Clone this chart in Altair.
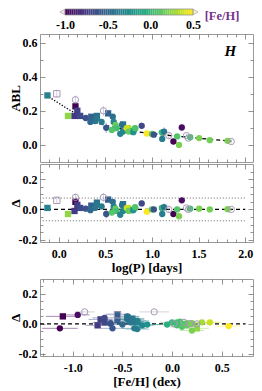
import altair as alt
import pandas as pd
import numpy as np

FONT = "Liberation Serif"
OPEN = "#a698b6"

# ---- star data ----
log_p = [-0.12, -0.02, 0.10, 0.18, 0.18, 0.20, 0.17, 0.23, 0.29, 0.35, 0.41, 0.41, 0.39, 0.34,
         0.46, 0.48, 0.53, 0.58, 0.59, 0.51, 0.61, 0.62, 0.57, 0.69, 0.69, 0.75, 0.82, 0.78,
         0.66, 0.68, 0.73, 0.75, 0.80, 0.82, 0.89, 0.945, 1.00, 1.02, 1.106, 1.13, 1.11, 1.18,
         1.23, 1.32, 1.29, 1.27, 1.37, 1.39, 1.41, 1.506, 1.62, 1.81, 1.85]
abl = [0.29, 0.30, 0.17, 0.226, 0.265, 0.20, 0.17, 0.17, 0.158, 0.165, 0.17, 0.155, 0.14, 0.135,
       0.135, 0.20, 0.185, 0.165, 0.135, 0.10, 0.117, 0.098, 0.088, 0.12, 0.078, 0.10, 0.095, 0.08,
       0.065, 0.118, 0.098, 0.078, 0.075, 0.098, 0.112, 0.067, 0.064, 0.06, 0.074, 0.078, 0.035, 0.055,
       0.02, 0.102, 0.0, 0.05, 0.055, 0.04, 0.045, 0.04, 0.028, 0.024, 0.02]
abl_err = [0.012, 0.025, 0.012, 0.012, 0.025, 0.012, 0.012, 0.012, 0.012, 0.012, 0.012, 0.012, 0.012, 0.012,
           0.012, 0.03, 0.012, 0.012, 0.012, 0.03, 0.012, 0.012, 0.012, 0.012, 0.02, 0.012, 0.012, 0.012,
           0.02, 0.02, 0.012, 0.012, 0.012, 0.012, 0.02, 0.012, 0.012, 0.012, 0.012, 0.025, 0.012, 0.02,
           0.012, 0.012, 0.012, 0.012, 0.012, 0.012, 0.012, 0.012, 0.012, 0.012, 0.012]
delta = [0.01, 0.06, -0.03, 0.05, 0.08, 0.03, -0.01, 0.01, 0.005, 0.025, 0.045, 0.03, 0.01, -0.005,
         0.02, 0.08, 0.065, 0.05, 0.02, -0.03, 0.005, -0.01, -0.02, 0.035, -0.01, 0.01, 0.01, -0.005,
         -0.035, 0.03, 0.01, -0.01, -0.005, 0.015, 0.04, -0.015, 0.0, 0.0, 0.01, 0.015, -0.03, 0.0,
         -0.03, 0.06, -0.045, 0.0, 0.01, 0.0, 0.005, 0.005, 0.0, 0.002, 0.0]
feh = [-0.35, -0.55, 0.25, -1.10, -0.88, -0.72, -0.75, -0.68, -0.62, -0.55, -0.45, -0.40, -0.42, -0.50,
       -0.38, -0.18, -0.55, -0.45, -0.35, -0.60, 0.15, 0.05, 0.10, -0.40, -0.30, 0.30, 0.05, -0.05,
       -0.35, -0.45, 0.38, 0.15, -0.25, 0.08, -0.68, 0.57, 0.12, -0.62, 0.0, -0.40, -0.38, 0.02,
       -1.13, -0.95, 0.20, 0.10, 0.12, 0.18, 0.05, 0.20, 0.18, 0.20, 0.25]
feh_err = [0.12, 0.12, 0.12, 0.17, 0.10, 0.12, 0.12, 0.12, 0.12, 0.12, 0.12, 0.12, 0.12, 0.12,
           0.12, 0.15, 0.12, 0.12, 0.12, 0.12, 0.12, 0.12, 0.12, 0.12, 0.12, 0.12, 0.12, 0.12,
           0.12, 0.12, 0.12, 0.12, 0.12, 0.12, 0.12, 0.12, 0.12, 0.12, 0.12, 0.12, 0.12, 0.12,
           0.18, 0.12, 0.12, 0.12, 0.12, 0.12, 0.12, 0.12, 0.12, 0.12, 0.12]
marker = (["square"] * 4 + ["circle"] + ["square"] * 3 + ["circle", "square", "square"]
          + ["circle"] * 5 + ["square"] + ["circle"] * 6 + ["square"] + ["circle"] * 29)
is_open = [False] * 53
for i in [1, 4, 15, 41, 46, 47, 52]:
    is_open[i] = True

stars = pd.DataFrame({"logp": log_p, "abl": abl, "abl_err": abl_err, "delta": delta,
                      "feh": feh, "feh_err": feh_err, "shape": marker, "open": is_open})

# fit curves
fit_dot_logp = [-0.13, 0.0, 0.1, 0.2, 0.3, 0.4, 0.5]
fit_dot_abl = [0.29, 0.245, 0.21, 0.18, 0.155, 0.13, 0.115]
fit_dash_logp = [0.5, 0.6, 0.7, 0.8, 1.0, 1.2, 1.4, 1.6, 1.85]
fit_dash_abl = [0.115, 0.102, 0.09, 0.08, 0.066, 0.055, 0.045, 0.034, 0.022]

band_levels = [0.075, -0.075]
band_logp_range = [-0.17, 2.0]
zero_logp_range = [-0.2, 2.0]
zero_feh_range = [-1.33, 0.74]
cbar_ticks = [-1.0, -0.5, 0.0, 0.5]

W = 213
# ---- scales ----
cscale = alt.Scale(scheme="viridis", domain=[-1.0, 0.5], clamp=True)
xs_logp = alt.Scale(domain=[-0.2, 2.083], nice=False, zero=False)
xs_feh = alt.Scale(domain=[-1.33, 0.815], nice=False, zero=False)
ys_top = alt.Scale(domain=[-0.1, 0.65], nice=False, zero=False)
ys_del = alt.Scale(domain=[-0.215, 0.3], nice=False, zero=False)
shape_enc = alt.Shape("shape:N", scale=alt.Scale(domain=["circle", "square"], range=["circle", "square"]), legend=None)
color_enc = alt.Color("feh:Q", scale=cscale, legend=None)
err_color = alt.condition("datum.open", alt.value(OPEN), color_enc)


def is_major(step):
    return f"abs(datum.value/{step} - round(datum.value/{step})) < 0.001"


def tsize(step):
    return {"condition": {"test": is_major(step), "value": -5}, "value": -3}


def label_expr(step):
    return (f"{is_major(step)} ? (datum.value < -0.001 ? '-' : '') + format(abs(datum.value), '.1f') : ''")


LBL = dict(labelFont=FONT, labelFontWeight="bold", labelFontSize=12, labelColor="black",
           titleFont=FONT, titleFontWeight="bold", titleFontSize=13, titleColor="black",
           tickColor="#777", tickWidth=0.8)


def axis(orient, values, step, labels=False, title=None, **kw):
    args = dict(orient=orient, values=values, tickSize=tsize(step), labels=labels,
                title=title, labelOverlap=False, labelFlush=False, grid=False, domain=False)
    args.update(LBL)
    if labels:
        args["labelExpr"] = label_expr(step)
    args.update(kw)
    return alt.Axis(**args)


logp_ticks = [round(v, 2) for v in np.arange(-0.1, 2.05, 0.1)]
feh_ticks = [round(v, 2) for v in np.arange(-1.3, 0.8, 0.1)]
top_yticks = [round(v, 2) for v in np.arange(0.0, 0.65, 0.1)]
del_yticks = [round(v, 2) for v in np.arange(-0.2, 0.27, 0.05)]

YAX = dict(labelPadding=8, minExtent=18, maxExtent=18, titlePadding=0)
XAX = dict(labelPadding=11, titlePadding=0)

base = alt.Chart(stars)

# ---------------- top panel ----------------
err_top = base.transform_calculate(lo="datum.abl - datum.abl_err", hi="datum.abl + datum.abl_err").mark_rule(
    strokeWidth=0.8, opacity=0.6).encode(
    x=alt.X("logp:Q", scale=xs_logp, axis=None),
    y=alt.Y("lo:Q", scale=ys_top, axis=None), y2="hi:Q", color=err_color)
pts_top = base.transform_filter("!datum.open").mark_point(filled=True, size=40, opacity=1).encode(
    x=alt.X("logp:Q", scale=xs_logp, axis=axis("bottom", logp_ticks, 0.5)),
    y=alt.Y("abl:Q", scale=ys_top, axis=axis("left", top_yticks, 0.2, labels=True, title="ABL", **YAX)),
    color=color_enc, shape=shape_enc)
open_top = base.transform_filter("datum.open").mark_point(filled=False, size=40, strokeWidth=1, color=OPEN, opacity=1).encode(
    x=alt.X("logp:Q", scale=xs_logp, axis=None), y=alt.Y("abl:Q", scale=ys_top, axis=None), shape=shape_enc)
fit_dot = alt.Chart(pd.DataFrame({"x": fit_dot_logp, "y": fit_dot_abl})).mark_line(
    color="black", strokeWidth=1.3, strokeDash=[1.3, 1.7]).encode(
    x=alt.X("x:Q", scale=xs_logp, axis=axis("top", logp_ticks, 0.5)),
    y=alt.Y("y:Q", scale=ys_top, axis=axis("right", top_yticks, 0.2)))
fit_dash = alt.Chart(pd.DataFrame({"x": fit_dash_logp, "y": fit_dash_abl})).mark_line(
    color="black", strokeWidth=1.3, strokeDash=[4, 3]).encode(
    x=alt.X("x:Q", scale=xs_logp, axis=None), y=alt.Y("y:Q", scale=ys_top, axis=None))
h_text = alt.Chart(pd.DataFrame({"t": ["H"]})).mark_text(
    font=FONT, fontStyle="italic", fontWeight="bold", fontSize=15, color="black").encode(
    x=alt.XDatum(1.84, scale=xs_logp, axis=None), y=alt.YDatum(0.55, scale=ys_top, axis=None), text="t:N")
top = alt.layer(err_top, fit_dot, fit_dash, pts_top, open_top, h_text).resolve_axis(
    x="independent", y="independent").properties(width=W, height=128)

# ---------------- middle panel ----------------
band_df = pd.DataFrame({"x": [band_logp_range[0]] * 2, "x2": [band_logp_range[1]] * 2, "y": band_levels})
bands = alt.Chart(band_df).mark_rule(color="#555", strokeWidth=0.9, strokeDash=[1, 2]).encode(
    x=alt.X("x:Q", scale=xs_logp, axis=None), x2="x2:Q", y=alt.Y("y:Q", scale=ys_del, axis=None))
zero_mid = alt.Chart(pd.DataFrame({"x": zero_logp_range, "y": [0.0, 0.0]})).mark_line(
    color="black", strokeWidth=1.2, strokeDash=[4, 3]).encode(
    x=alt.X("x:Q", scale=xs_logp, axis=axis("top", logp_ticks, 0.5)),
    y=alt.Y("y:Q", scale=ys_del, axis=axis("right", del_yticks, 0.2)))
err_mid = base.transform_calculate(lo="datum.delta - datum.abl_err", hi="datum.delta + datum.abl_err").mark_rule(
    strokeWidth=0.8, opacity=0.6).encode(
    x=alt.X("logp:Q", scale=xs_logp, axis=None),
    y=alt.Y("lo:Q", scale=ys_del, axis=None), y2="hi:Q", color=err_color)
pts_mid = base.transform_filter("!datum.open").mark_point(filled=True, size=40, opacity=1).encode(
    x=alt.X("logp:Q", scale=xs_logp, axis=axis("bottom", logp_ticks, 0.5, labels=True, title="log(P) [days]", **XAX)),
    y=alt.Y("delta:Q", scale=ys_del, axis=axis("left", del_yticks, 0.2, labels=True, title="Δ", **YAX)),
    color=color_enc, shape=shape_enc)
open_mid = base.transform_filter("datum.open").mark_point(filled=False, size=40, strokeWidth=1, color=OPEN, opacity=1).encode(
    x=alt.X("logp:Q", scale=xs_logp, axis=None), y=alt.Y("delta:Q", scale=ys_del, axis=None), shape=shape_enc)
mid = alt.layer(bands, zero_mid, err_mid, pts_mid, open_mid).resolve_axis(
    x="independent", y="independent").properties(width=W, height=78)

# ---------------- bottom panel ----------------
zero_bot = alt.Chart(pd.DataFrame({"x": zero_feh_range, "y": [0.0, 0.0]})).mark_line(
    color="black", strokeWidth=1.2, strokeDash=[4, 3]).encode(
    x=alt.X("x:Q", scale=xs_feh, axis=axis("top", feh_ticks, 0.5)),
    y=alt.Y("y:Q", scale=ys_del, axis=axis("right", del_yticks, 0.2)))
err_bot = base.transform_calculate(lo="datum.feh - datum.feh_err", hi="datum.feh + datum.feh_err").mark_rule(
    strokeWidth=0.9, opacity=0.5).encode(
    x=alt.X("lo:Q", scale=xs_feh, axis=None), x2="hi:Q",
    y=alt.Y("delta:Q", scale=ys_del, axis=None), color=err_color)
pts_bot = base.transform_filter("!datum.open").mark_point(filled=True, size=40, opacity=1).encode(
    x=alt.X("feh:Q", scale=xs_feh, axis=axis("bottom", feh_ticks, 0.5, labels=True, title="[Fe/H] (dex)", **XAX)),
    y=alt.Y("delta:Q", scale=ys_del, axis=axis("left", del_yticks, 0.2, labels=True, title="Δ", **YAX)),
    color=color_enc, shape=shape_enc)
open_bot = base.transform_filter("datum.open").mark_point(filled=False, size=40, strokeWidth=1, color=OPEN, opacity=1).encode(
    x=alt.X("feh:Q", scale=xs_feh, axis=None), y=alt.Y("delta:Q", scale=ys_del, axis=None), shape=shape_enc)
bot = alt.layer(zero_bot, err_bot, pts_bot, open_bot).resolve_axis(
    x="independent", y="independent").properties(width=W, height=77)

# ---------------- colorbar ----------------
edges = np.linspace(cbar_ticks[0], cbar_ticks[-1], 61)
cb_df = pd.DataFrame({"v0": edges[:-1], "v1": edges[1:], "mid": (edges[:-1] + edges[1:]) / 2})
cb_scale = alt.Scale(domain=[-1.293, 1.203], nice=False, zero=False)
cb_rect = alt.Chart(cb_df).mark_rect().encode(
    x=alt.X("v0:Q", scale=cb_scale, axis=alt.Axis(values=cbar_ticks, ticks=False, domain=False, title=None,
                                                   labelExpr=label_expr(0.5), labelPadding=4, labelFlush=False,
                                                   labelOverlap=False, grid=False, **LBL)),
    x2="v1:Q", color=alt.Color("mid:Q", scale=cscale, legend=None))
cb_box = alt.Chart(pd.DataFrame({"a": [cbar_ticks[0]], "b": [cbar_ticks[-1]]})).mark_rect(
    fill=None, stroke="#888", strokeWidth=0.7).encode(x=alt.X("a:Q", scale=cb_scale), x2="b:Q")
cb_tri = alt.Chart(pd.DataFrame({"v": [-1.032, 0.532], "s": ["triangle-left", "triangle-right"],
                                 "c": ["#f4e4ea", "#f7f3c8"]})).mark_point(
    filled=True, size=30, stroke="#999", strokeWidth=0.6, opacity=1).encode(
    x=alt.X("v:Q", scale=cb_scale), y=alt.value(3),
    shape=alt.Shape("s:N", scale=None, legend=None), fill=alt.Fill("c:N", scale=None, legend=None))
cb_txt = alt.Chart(pd.DataFrame({"t": ["[Fe/H]"]})).mark_text(
    font=FONT, fontWeight="bold", fontSize=12.5, color="#74338c").encode(
    x=alt.XDatum(0.84, scale=cb_scale), y=alt.value(7), text="t:N")
cbar = alt.layer(cb_rect, cb_box, cb_tri, cb_txt).properties(
    width=W, height=6, view=alt.ViewBackground(stroke=None))

chart = alt.vconcat(cbar, alt.vconcat(top, mid, spacing=0), bot, spacing=3).properties(
    padding=0).configure_view(stroke="#999", strokeWidth=1)

chart.save("out.html", embed_options={"renderer": "svg", "actions": False})
